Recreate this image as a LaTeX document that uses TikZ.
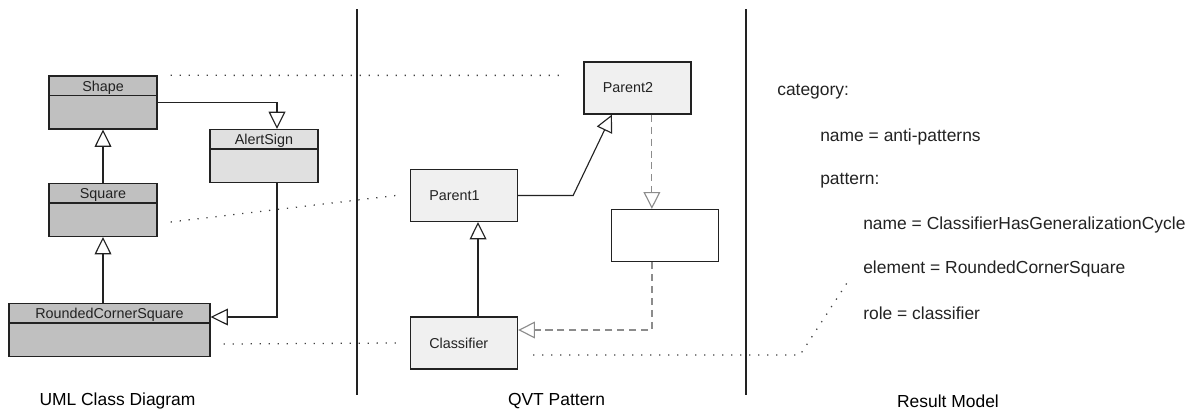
\documentclass[tikz,border=0pt]{standalone}
\usepackage{fontspec}
\setmainfont{Liberation Sans}
\usetikzlibrary{arrows.meta, calc}
\definecolor{umldark}{HTML}{C0C0C0}
\definecolor{umllight}{HTML}{E0E0E0}
\definecolor{qvtfill}{HTML}{F0F0F0}
\definecolor{inkgray}{HTML}{222222}
\definecolor{tracegray}{HTML}{404040}
\definecolor{dashgray}{HTML}{8C8C8C}

\begin{document}
\begin{tikzpicture}[
  x=0.025cm, y=-0.025cm,
  umlclass/.style={
    rectangle, draw=inkgray, line width=0.9pt, inner sep=0pt,
    minimum width=2.7cm, minimum height=1.325cm,
  },
  clsname/.style={
    anchor=north, minimum height=0.5cm, inner sep=0pt, yshift=-0.05cm,
    font=\fontsize{10.2}{12}\selectfont, text=inkgray,
  },
  qvtbox/.style={
    rectangle, draw=inkgray, line width=0.9pt, fill=qvtfill,
    minimum width=2.675cm, minimum height=1.3cm, inner xsep=0.47cm,
    text width=1.735cm, align=left, font=\fontsize{10.2}{12}\selectfont, text=inkgray,
  },
  gen/.style={
    draw=inkgray, line width=0.8pt,
    -{Triangle[open, length=0.43cm, width=0.42cm, fill=white]},
  },
  dashgen/.style={
    draw=dashgray, line width=0.8pt, dash pattern=on 5pt off 3.5pt,
    -{Triangle[open, length=0.42cm, width=0.42cm, fill=white]},
  },
  trace/.style={draw=tracegray, line width=0.9pt, dash pattern=on 0.9pt off 5.5pt},
  result/.style={anchor=west, inner sep=0pt, font=\fontsize{12.4}{14}\selectfont, text=inkgray},
  caption/.style={inner sep=0pt, font=\fontsize{12.4}{14}\selectfont, text=black},
]
  \useasboundingbox (0,0) rectangle (1193,410);

  % Separators
  \draw[inkgray, line width=0.9pt] (357,9) -- (357,395);
  \draw[inkgray, line width=0.9pt] (746,9) -- (746,395);

  % UML classes
  \node[umlclass, fill=umldark] (shape) at (103,102.5) {};
  \node[umlclass, fill=umllight] (alert) at (264,156) {};
  \node[umlclass, fill=umldark] (square) at (103,210) {};
  \node[umlclass, fill=umldark, minimum width=5.025cm] (rcs) at (109.5,330) {};
  \foreach \c in {shape, alert, square, rcs}
    \draw[inkgray, line width=0.9pt] ([yshift=-0.5cm]\c.north west) -- ([yshift=-0.5cm]\c.north east);
  \node[clsname] (shapename) at (shape.north) {Shape};
  \node[clsname] (alertname) at (alert.north) {AlertSign};
  \node[clsname] (squarename) at (square.north) {Square};
  \node[clsname] (rcsname) at (rcs.north) {RoundedCornerSquare};

  \draw[gen] (shape.east) -| ([xshift=0.325cm]alert.north);
  \draw[gen] (square.north) -- (shape.south);
  \draw[gen] (square.south |- rcs.north) -- (square.south);
  \draw[gen] ([xshift=0.325cm]alert.south) |- ([yshift=0.325cm]rcs.east);

  % QVT pattern
  \node[qvtbox] (parent2) at (637.5,88) {Parent2};
  \node[qvtbox] (parent1) at (464,195.5) {Parent1};
  \node[qvtbox, fill=white] (hidden) at (665,235.5) {};
  \node[qvtbox] (classifier) at (464,343) {Classifier};

  \draw[gen] (parent1.east) -- ++(55,0) -- ([xshift=-0.64cm]parent2.south);
  \draw[gen] ([xshift=0.35cm]classifier.north) -- ([xshift=0.35cm]parent1.south);
  \draw[dashgen] ([xshift=0.36cm]parent2.south) coordinate (p2s) -- (p2s |- hidden.north);
  \draw[dashgen] ([xshift=-0.325cm]hidden.south) |- ([yshift=0.325cm]classifier.east);

  % Result model
  \node[result] (category) at (777,92) {category:};
  \node[result] (catname) at (820,137) {name = anti-patterns};
  \node[result] (pattern) at (820,181) {pattern:};
  \node[result] (patname) at (863,225) {name = ClassifierHasGeneralizationCycle};
  \node[result] (element) at (863,269) {element = RoundedCornerSquare};
  \node[result] (role) at (863,313) {role = classifier};

  % Traces
  \draw[trace] ([xshift=0.325cm]shape.north east) -- ([xshift=-0.425cm,yshift=-0.35cm]parent2.north west);
  \draw[trace] ([xshift=0.325cm,yshift=-0.3cm]square.east) -- ([xshift=-0.35cm]parent1.west);
  \draw[trace] ([xshift=0.325cm,yshift=-0.35cm]rcs.east) -- ([xshift=-0.35cm]classifier.west);
  \coordinate (bend) at (800,355);
  \draw[trace] ([xshift=0.375cm,yshift=-0.3cm]classifier.east) -- (bend)
    -- ([xshift=-0.375cm,yshift=-0.1cm]element.south west);

  % Captions
  \node[caption] (umlcap) at (117.5,401) {UML Class Diagram};
  \node[caption] (qvtcap) at (556.5,401) {QVT Pattern};
  \node[caption] (rescap) at (948,401) {Result Model};
\end{tikzpicture}
\end{document}
